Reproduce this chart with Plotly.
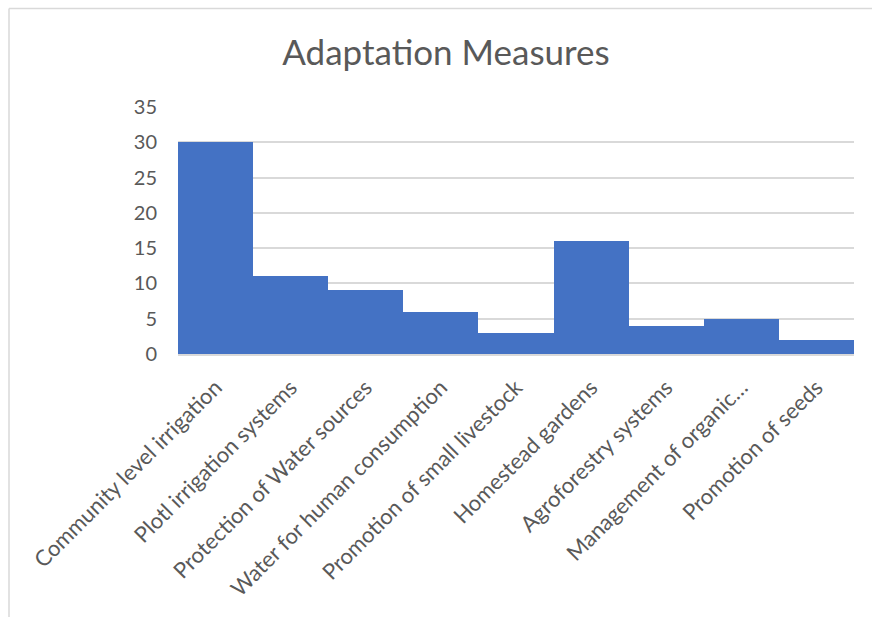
import plotly.graph_objects as go

# Adaptation measures and their counts
measures = [
    "Community level irrigation",
    "Plotl irrigation systems",
    "Protection of Water sources",
    "Water for human consumption",
    "Promotion of small livestock",
    "Homestead gardens",
    "Agroforestry systems",
    "Management of organic…",
    "Promotion of seeds",
]
counts = [30, 11, 9, 6, 3, 16, 4, 5, 2]
y_ticks = [0, 5, 10, 15, 20, 25, 30, 35]

W, H = 872, 617
L, R, T, B = 178, 18, 107, 263
pw, ph = W - L - R, H - T - B

TEXT = "#595959"
GRID = "#d9d9d9"
FONT = "Lato, Open Sans, sans-serif"

fig = go.Figure(
    go.Bar(
        x=measures,
        y=counts,
        marker=dict(color="#4472C4", line=dict(width=0)),
        hoverinfo="x+y",
    )
)

# light frame along the top and left edges of the chart area
def px_x(p):
    return (p - L) / pw

def px_y(p):
    return (H - B - p) / ph

fig.add_shape(type="line", xref="paper", yref="paper",
              x0=px_x(9), x1=px_x(W + 5), y0=px_y(8.5), y1=px_y(8.5),
              line=dict(color=GRID, width=1.5))
fig.add_shape(type="line", xref="paper", yref="paper",
              x0=px_x(9), x1=px_x(9), y0=px_y(8.5), y1=px_y(H + 5),
              line=dict(color=GRID, width=1.5))

fig.update_layout(
    width=W,
    height=H,
    margin=dict(l=L, r=R, t=T, b=B),
    paper_bgcolor="white",
    plot_bgcolor="white",
    bargap=0,
    showlegend=False,
    title=dict(
        text="Adaptation Measures",
        x=446 / W,
        xanchor="center",
        xref="container",
        y=1 - 53 / H,
        yanchor="middle",
        font=dict(family=FONT, size=35, color=TEXT),
    ),
    xaxis=dict(
        tickangle=-45,
        tickfont=dict(family=FONT, size=22, color=TEXT),
        showgrid=False,
        showline=True,
        linecolor=GRID,
        linewidth=2,
        ticks="",
        ticklabelstandoff=10,
    ),
    yaxis=dict(
        range=[0, 35],
        tickvals=y_ticks,
        tickfont=dict(family=FONT, size=20, color=TEXT),
        showgrid=True,
        gridcolor=GRID,
        gridwidth=2,
        zeroline=False,
        showline=False,
        ticks="",
        ticklabelstandoff=20,
    ),
)

fig.write_html("out.html")
